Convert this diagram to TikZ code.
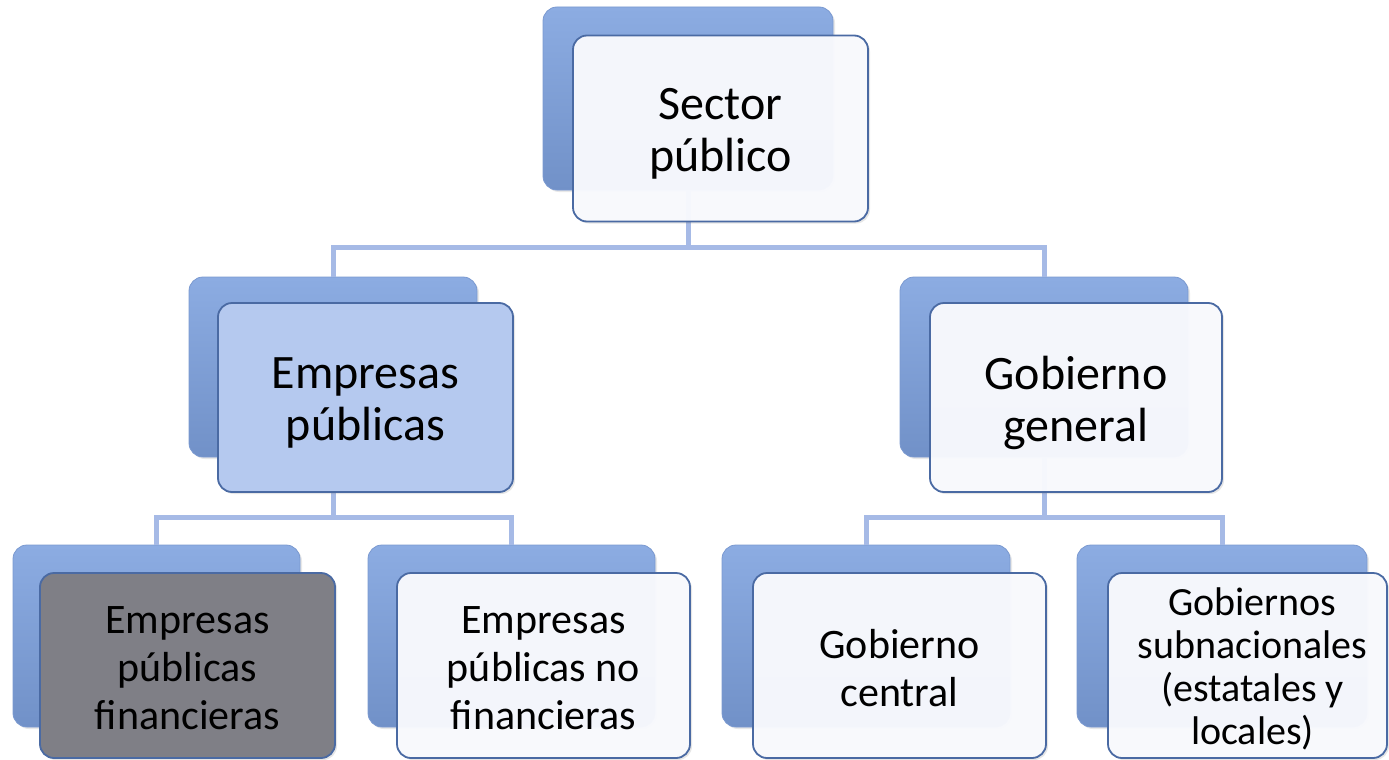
\documentclass[tikz,border=0pt]{standalone}
\usepackage{fontspec}
\setmainfont{Carlito}
\usetikzlibrary{shadows}
\definecolor{backtop}{HTML}{8CACE2}
\definecolor{backbot}{HTML}{7191C8}
\definecolor{backedge}{HTML}{7A99D0}
\definecolor{frontfill}{HTML}{F9FAFE}
\definecolor{frontedge}{HTML}{4A6AA3}
\definecolor{midfill}{HTML}{B5C9EF}
\definecolor{grayfill}{HTML}{7F7F86}
\definecolor{linkcol}{HTML}{A6BAE6}
\tikzset{
  backbox/.style={rectangle, rounded corners=14pt, top color=backtop, bottom color=backbot,
    draw=backedge, line width=0.8pt, inner sep=0pt,
    drop shadow={opacity=0.18, shadow xshift=2pt, shadow yshift=-2pt}},
  frontbox/.style={rectangle, rounded corners=14pt, fill=frontfill, fill opacity=0.96,
    draw=frontedge, line width=1.8pt, inner sep=0pt,
    drop shadow={opacity=0.2, shadow xshift=2pt, shadow yshift=-2pt}},
  bigtext/.style={font=\fontsize{48}{52}\selectfont, align=center, text=black, text opacity=1, fill opacity=1, yshift=-5pt},
  smalltext/.style={font=\fontsize{42}{48}\selectfont, align=center, text=black, text opacity=1, fill opacity=1, yshift=-3pt},
  tinytext/.style={font=\fontsize{40}{43}\selectfont, align=center, text=black, text opacity=1, fill opacity=1, yshift=-3pt},
  link/.style={draw=linkcol, line width=5pt}
}
\begin{document}
\begin{tikzpicture}[x=1pt,y=-1pt]
\useasboundingbox (0,0) rectangle (1389,760);
% back boxes
\node[backbox, minimum width=290pt, minimum height=183pt] (tb) at (688,98.5) {};
\node[backbox, minimum width=288pt, minimum height=180pt] (lb) at (333,367) {};
\node[backbox, minimum width=288pt, minimum height=180pt] (rb) at (1044,367) {};
\node[backbox, minimum width=287pt, minimum height=182pt] (b1b) at (156.5,636) {};
\node[backbox, minimum width=287pt, minimum height=182pt] (b2b) at (511.5,636) {};
\node[backbox, minimum width=288pt, minimum height=182pt] (b3b) at (866,636) {};
\node[backbox, minimum width=290pt, minimum height=182pt] (b4b) at (1222,636) {};
% connectors
\coordinate (j1) at (688,247);
\coordinate (j2) at (333,517);
\coordinate (j3) at (1044,517);
\draw[link] (tb.south) -- (j1) -| (lb.north);
\draw[link] (j1) -| (rb.north);
\draw[link] (lb.south) -- (j2) -| (b1b.north);
\draw[link] (j2) -| (b2b.north);
\draw[link] (rb.south) -- (j3) -| (b3b.north);
\draw[link] (j3) -| (b4b.north);
% front boxes
\node[frontbox, minimum width=295pt, minimum height=186pt,
  label={[bigtext]center:Sector\\público}] (t) at (720.5,128.5) {};
\node[frontbox, fill=midfill, fill opacity=1, minimum width=295pt, minimum height=189pt,
  label={[bigtext]center:Empresas\\públicas}] (l) at (365.5,397.5) {};
\node[frontbox, minimum width=292pt, minimum height=189pt,
  label={[bigtext]center:Gobierno\\general}] (r) at (1076,397.5) {};
\node[frontbox, fill=grayfill, fill opacity=1, minimum width=295pt, minimum height=185pt,
  label={[smalltext]center:Empresas\\públicas\\financieras}] (b1) at (187.5,665.5) {};
\node[frontbox, minimum width=293pt, minimum height=185pt,
  label={[smalltext]center:Empresas\\públicas no\\financieras}] (b2) at (543.5,665.5) {};
\node[frontbox, minimum width=293pt, minimum height=185pt,
  label={[smalltext]center:Gobierno\\central}] (b3) at (899.5,665.5) {};
\node[frontbox, minimum width=279pt, minimum height=185pt,
  label={[tinytext, xshift=5pt]center:Gobiernos\\subnacionales\\(estatales y\\locales)}] (b4) at (1247.5,665.5) {};
\end{tikzpicture}
\end{document}
